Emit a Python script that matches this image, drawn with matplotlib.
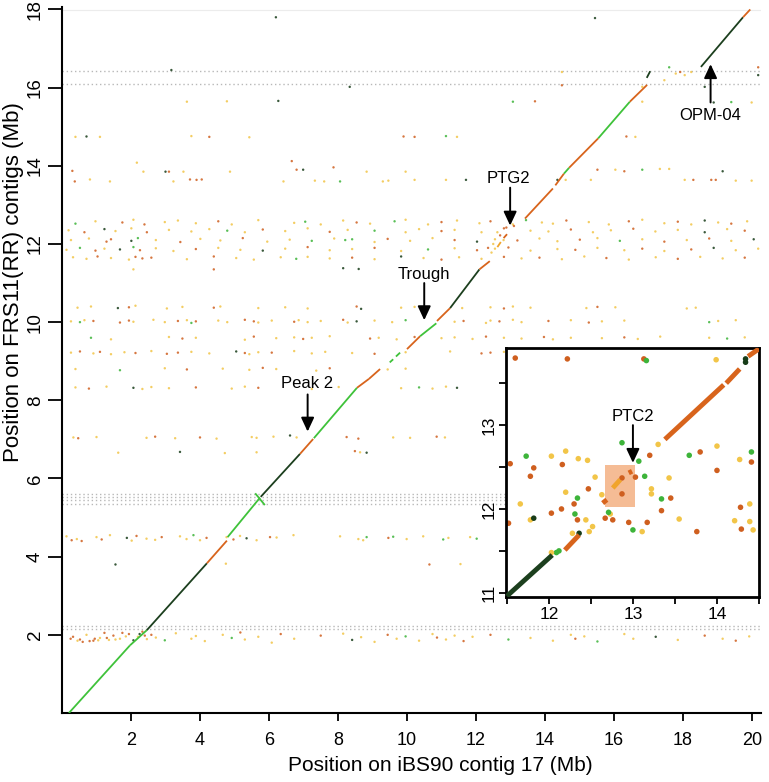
import matplotlib
matplotlib.use("Agg")
import matplotlib.pyplot as plt
from matplotlib.patches import Rectangle
from matplotlib.ticker import MultipleLocator

plt.rcParams['font.family'] = ['Liberation Sans', 'DejaVu Sans']

# colour codes used in the data strings below
DOT_COLORS = {"y": "#f2c548", "o": "#cf5f1f", "g": "#3db43a", "d": "#173c19", "l": "#f0a42c"}
LINE_COLORS = {"g": "#3fc23a", "d": "#1c3f1e", "o": "#d8641c", "l": "#f0a42c"}

# ---- main plot: scattered hits, band by band ----
b12a_x = [0.39, 0.97, 1.75, 2.07, 2.39, 2.98, 3.36, 3.88, 4.53, 4.92, 5.69, 6.73, 7.05, 7.50, 8.15, 8.54, 8.93, 9.64, 9.96, 10.61,
          11.0, 11.45, 12.1, 12.42, 13.07, 13.45, 13.91, 14.23, 14.62, 15.27, 15.85, 16.43, 16.82, 17.46, 17.85, 18.24, 18.63, 19.02, 19.4, 19.86]
b12a_y = [12.52, 12.58, 12.55, 12.62, 12.5, 12.56, 12.6, 12.53, 12.58, 12.5, 12.61, 12.54, 12.57, 12.5, 12.6, 12.55, 12.52, 12.58, 12.62, 12.5,
          12.56, 12.6, 12.53, 12.58, 12.5, 12.61, 12.55, 12.52, 12.6, 12.56, 12.5, 12.58, 12.62, 12.53, 12.57, 12.5, 12.6, 12.55, 12.52, 12.58]
b12a_c = "gyoyoyyyoy" "yygyyoygyy" "oyyoygyyoy" "yoyyoydyoy"

b12b_x = [0.19, 0.65, 1.23, 1.55, 2.01, 2.46, 3.1, 3.75, 4.27, 4.79, 5.3, 5.82, 6.47, 7.12, 7.76, 8.28, 9.06, 9.96, 10.35, 11.0,
          11.38, 12.16, 12.81, 13.58, 14.1, 14.75, 15.39, 15.91, 16.56, 17.2, 17.85, 18.63, 19.28, 19.79]
b12b_y = [12.35, 12.3, 12.38, 12.33, 12.4, 12.3, 12.36, 12.32, 12.38, 12.34, 12.3, 12.37, 12.33, 12.4, 12.31, 12.36, 12.34, 12.3, 12.38, 12.33,
          12.36, 12.3, 12.4, 12.34, 12.32, 12.37, 12.3, 12.35, 12.39, 12.32, 12.36, 12.3, 12.38, 12.34]
b12b_c = "yodyyoyyyg" "yoyyoygyyo" "yyoyyoyyoy" "ydyo"

b12c_x = [0.26, 0.78, 1.29, 1.42, 2.01, 2.2, 2.72, 3.43, 4.01, 4.59, 5.24, 5.95, 6.6, 7.24, 7.89, 8.21, 8.41, 9.06, 9.44, 10.09,
          10.74, 11.38, 12.03, 12.55, 13.2, 13.84, 14.36, 15.01, 15.52, 16.17, 16.82, 17.46, 18.11, 18.76, 19.4, 20.05]
b12c_y = [12.1, 12.14, 12.06, 12.12, 12.08, 12.15, 12.1, 12.05, 12.13, 12.09, 12.15, 12.06, 12.11, 12.08, 12.14, 12.1, 12.12, 12.05, 12.13, 12.08,
          12.15, 12.1, 12.06, 12.12, 12.09, 12.14, 12.07, 12.11, 12.15, 12.08, 12.12, 12.06, 12.1, 12.14, 12.08, 12.12]
b12c_c = "yyoodgyoyy" "oyygyggyoy" "yodyoyyoyg" "yoyoyd"

b12d_x = [0.13, 0.52, 0.97, 1.23, 1.68, 2.07, 2.26, 2.72, 3.23, 3.88, 4.53, 5.17, 5.82, 6.47, 7.12, 7.76, 8.41, 9.06, 9.83, 10.61,
          11.38, 12.03, 12.55, 12.94, 13.58, 14.36, 14.88, 15.52, 16.3, 16.82, 17.46, 18.24, 18.89, 19.53, 20.18]
b12d_y = [11.85, 11.9, 11.83, 11.88, 11.86, 11.92, 11.84, 11.89, 11.82, 11.87, 11.9, 11.85, 11.83, 11.88, 11.92, 11.84, 11.87, 11.9, 11.82, 11.86,
          11.89, 11.84, 11.88, 11.91, 11.83, 11.87, 11.85, 11.9, 11.84, 11.88, 11.82, 11.86, 11.9, 11.84, 11.88]
b12d_c = "ygoydgoyyo" "yydyoyyoyg" "yoyoyyoyyo" "yodyy"

b12e_x = [0.32, 0.71, 1.03, 1.42, 1.94, 2.13, 2.33, 2.59, 3.62, 4.4, 5.05, 5.56, 6.34, 6.79, 7.12, 7.76, 8.41, 9.06, 9.83, 10.48,
          11.0, 11.51, 12.16, 12.81, 13.32, 13.84, 14.49, 15.14, 15.78, 16.43, 17.21, 17.85, 18.5, 19.15, 19.79]
b12e_y = [11.66, 11.62, 11.68, 11.64, 11.6, 11.67, 11.63, 11.65, 11.61, 11.68, 11.64, 11.6, 11.66, 11.62, 11.67, 11.63, 11.65, 11.61, 11.68, 11.64,
          11.6, 11.66, 11.62, 11.67, 11.63, 11.65, 11.61, 11.68, 11.64, 11.6, 11.66, 11.62, 11.67, 11.63, 11.65]
b12e_c = "yyoyyoooyo" "yyygyyoydy" "oyyoyoyyoy" "yoyyo"

b12f_x = [2.07, 4.4, 8.15, 8.6, 12.35, 12.5, 12.7, 12.62, 12.88, 12.45, 12.8, 13.1]
b12f_y = [11.35, 11.35, 11.38, 11.36, 11.9, 12.0, 12.22, 12.3, 12.42, 11.78, 12.1, 12.46]
b12f_c = "yoddoyoyoyyo"

b10a_x = [0.45, 0.84, 1.62, 1.94, 2.13, 3.04, 3.49, 4.4, 4.59, 5.69, 6.47, 7.12, 8.54, 8.67, 9.83, 10.22, 11.6, 12.42, 12.81, 13.07,
          13.58, 15.2, 15.52, 16.04, 18.11, 18.37]
b10a_y = [10.37, 10.4, 10.36, 10.38, 10.42, 10.35, 10.39, 10.37, 10.4, 10.36, 10.38, 10.35, 10.4, 10.34, 10.37, 10.39, 10.36, 10.38, 10.35, 10.4,
          10.37, 10.36, 10.39, 10.38, 10.35, 10.37]
b10a_c = "yydoyyyoyy" "yyodyyyyoy" "yyoyyy"

b10b_x = [0.26, 0.52, 0.65, 0.91, 1.68, 1.94, 2.07, 2.65, 2.98, 3.36, 3.62, 3.75, 3.88, 4.53, 4.79, 5.3, 5.56, 5.69, 6.08, 6.73,
          6.86, 7.12, 7.5, 8.15, 8.28, 8.54, 9.06, 9.57, 9.96, 11.38, 11.64, 12.29, 12.42, 12.68, 13.07, 13.32, 14.1, 14.75, 15.27, 15.65,
          16.3, 18.76, 19.02, 19.53]
b10b_y = [10.02, 10.0, 10.05, 10.03, 9.99, 10.04, 10.01, 10.06, 10.0, 10.03, 10.05, 9.98, 10.02, 10.04, 10.0, 10.06, 10.02, 9.99, 10.04, 10.01,
          10.05, 10.0, 10.03, 10.06, 9.99, 10.02, 10.04, 10.0, 10.05, 10.01, 10.03, 9.98, 10.04, 10.02, 10.06, 10.0, 10.03, 10.05, 9.99, 10.02,
          10.04, 10.0, 10.03, 10.05]
b10b_c = "ygyoooyyyo" "ygoyyooyyo" "yyyoydyygy" "oyyoyyoyoy" "ygyy"

b96_x = [0.84, 1.42, 3.1, 3.49, 3.88, 5.3, 5.56, 6.21, 6.73, 6.99, 7.24, 7.76, 8.93, 9.18, 9.7, 10.22, 11.0, 11.38, 11.9, 12.29,
         12.81, 13.32, 13.97, 14.23, 14.75, 15.65, 16.3, 16.69, 17.34, 18.76, 19.28, 19.79]
b96_y = [9.6, 9.56, 9.62, 9.58, 9.6, 9.55, 9.63, 9.59, 9.61, 9.57, 9.6, 9.64, 9.58, 9.6, 9.56, 9.62, 9.59, 9.61, 9.57, 9.63,
         9.6, 9.58, 9.62, 9.56, 9.6, 9.59, 9.61, 9.57, 9.63, 9.6, 9.58, 9.61]
b96_c = "gyyoyyoyyo" "yyoyyoyyyo" "yyoyyyoyyy" "gy"

b92_x = [0.26, 0.52, 0.91, 1.1, 1.42, 1.81, 2.13, 2.59, 3.04, 3.36, 3.75, 4.27, 5.05, 5.3, 5.43, 5.69, 6.08, 6.73, 7.24, 7.63,
         8.41, 9.06, 9.96, 11.25, 12.16, 12.42, 12.81, 13.45, 13.84, 14.36, 14.88, 15.52, 16.17, 16.82, 17.72, 18.5, 19.15, 19.66]
b92_y = [9.22, 9.25, 9.2, 9.24, 9.18, 9.23, 9.21, 9.26, 9.19, 9.22, 9.24, 9.2, 9.25, 9.21, 9.18, 9.23, 9.22, 9.26, 9.2, 9.24,
         9.21, 9.19, 9.23, 9.25, 9.2, 9.22, 9.24, 9.21, 9.26, 9.19, 9.23, 9.22, 9.2, 9.24, 9.21, 9.25, 9.2, 9.23]
b92_c = "yoyoyyoyoo" "yydoyyoyyy" "yoyyooyyoy" "yyyyyyoy"

b88_x = [0.39, 1.68, 2.98, 3.62, 4.66, 5.43, 5.82, 6.21, 7.37, 7.76, 9.44, 9.96, 12.94, 13.58, 14.23, 14.62, 15.52, 16.3]
b88_y = [8.8, 8.77, 8.82, 8.79, 8.81, 8.78, 8.83, 8.8, 8.76, 8.82, 8.79, 8.81, 8.8, 8.78, 8.82, 8.8, 8.79, 8.81]
b88_c = "ygyoyyoyyo" "yyyoyyoy"

b83_x = [0.39, 0.78, 1.29, 2.07, 2.33, 2.59, 3.1, 3.88, 4.92, 5.3, 5.69, 7.24, 8.02, 9.83, 10.35, 10.74, 11.13, 11.45]
b83_y = [8.33, 8.3, 8.35, 8.32, 8.29, 8.34, 8.31, 8.33, 8.3, 8.35, 8.32, 8.29, 8.34, 8.31, 8.33, 8.3, 8.35, 8.32]
b83_c = "yoydyyyoyy" "oyyygyyd"

b70_x = [0.33, 0.47, 1.0, 2.45, 2.7, 3.28, 4.0, 4.48, 5.5, 5.64, 6.13, 6.61, 6.8, 8.25, 8.59, 9.6, 10.09, 10.86, 11.1,
         1.63, 3.42, 4.72, 5.64, 8.49, 8.64, 8.83]
b70_y = [7.05, 7.03, 7.06, 7.04, 7.07, 7.03, 7.05, 7.02, 7.06, 7.04, 7.07, 7.1, 7.05, 7.06, 7.02, 7.05, 7.04, 7.07, 7.05,
         6.66, 6.68, 6.65, 6.67, 6.7, 6.67, 6.66]
b70_c = "yoyyoyoyyy" "ydyooyyoy" "ydyyoyd"

b45_x = [0.13, 0.28, 0.43, 0.57, 1.0, 1.15, 1.39, 1.88, 2.02, 2.16, 2.45, 2.7, 2.89, 3.42, 3.61, 3.81, 4.0, 4.19, 4.77, 4.97,
         5.16, 5.35, 5.64, 6.03, 6.22, 6.71, 8.06, 8.59, 8.73, 8.83, 9.46, 9.6, 9.99, 10.47, 11.05, 11.2, 11.83, 12.02,
         1.55, 4.75, 10.65, 11.55]
b45_y = [4.52, 4.42, 4.45, 4.4, 4.5, 4.44, 4.55, 4.48, 4.41, 4.53, 4.46, 4.43, 4.5, 4.52, 4.45, 4.55, 4.42, 4.48, 4.5, 4.44,
         4.53, 4.47, 4.42, 4.5, 4.49, 4.55, 4.52, 4.45, 4.42, 4.5, 4.48, 4.51, 4.45, 4.52, 4.44, 4.48, 4.5, 4.46,
         3.8, 3.82, 3.8, 3.81]
b45_c = "yoyoyoydyo" "yyoyygyoyo" "ydyoyyyyyg" "ogyygyyg" "dyoy"

b2_x = [0.32, 0.52, 0.71, 0.91, 1.1, 1.23, 1.36, 1.49, 1.68, 1.94, 2.07, 2.2, 2.33, 2.46, 2.59, 2.72, 2.98, 3.3, 3.75, 3.88,
        4.14, 4.66, 4.92, 5.17, 5.3, 5.69, 6.08, 6.34, 6.73, 7.5, 8.15, 8.41, 8.67, 9.06, 9.44, 9.7, 9.96, 10.35, 10.74, 10.87,
        11.13, 11.38, 11.64, 11.9, 12.42, 12.94, 13.58, 14.23, 14.75, 14.88, 15.14, 15.52, 16.3, 16.56, 17.21, 17.85, 18.63, 19.15, 19.53, 19.92,
        0.25, 0.45, 0.6, 0.8, 0.95, 1.05, 1.3, 1.55, 1.75, 1.85, 2.25, 2.4]
b2_y = [1.95, 1.88, 2.0, 1.85, 1.92, 2.05, 1.87, 1.98, 1.9, 2.02, 1.86, 1.95, 2.08, 1.89, 2.0, 1.93, 1.86, 2.04, 1.9, 1.97,
        1.84, 2.0, 1.92, 2.06, 1.88, 1.95, 1.8, 2.02, 1.9, 1.98, 2.03, 1.87, 1.94, 1.82, 2.0, 1.9, 1.96, 1.85, 2.02, 1.93,
        1.88, 1.98, 1.84, 1.95, 2.0, 1.88, 1.92, 1.85, 2.0, 1.9, 1.96, 1.83, 2.02, 1.9, 1.95, 1.87, 1.98, 1.9, 1.85, 1.96,
        1.9, 1.85, 1.82, 1.84, 1.9, 1.86, 1.92, 1.88, 2.05, 1.96, 2.02, 1.98]
b2_c = "ooyoyoyoyo" "dyoyoygyyy" "yygoyyyoyo" "ydyyoygyyo" "yyoyogyyyo" "ygyydyoyoy" "oyoooyoyoydo"

b137_x = [0.3, 0.37, 0.81, 1.39, 2.17, 2.36, 3.0, 3.1, 3.52, 3.23, 3.71, 3.9, 4.05, 4.87, 6.42, 6.66, 6.8, 6.99, 7.33, 7.6,
          7.87, 8.06, 8.83, 9.3, 9.46, 9.96, 10.22, 11.13, 11.71, 14.36, 14.6, 15.33, 15.52, 16.04, 16.3, 16.82, 17.33, 17.6, 18.05, 18.3,
          18.82, 18.95, 19.15, 19.53, 19.99]
b137_y = [13.87, 13.6, 13.65, 13.6, 14.08, 13.85, 13.85, 13.85, 13.85, 13.6, 13.65, 13.64, 13.65, 13.85, 13.6, 14.12, 13.9, 13.9, 13.62, 13.6,
          13.96, 13.6, 13.85, 13.6, 13.62, 13.85, 13.64, 13.64, 13.64, 13.64, 13.64, 13.64, 13.9, 13.9, 13.86, 13.9, 13.92, 13.92, 13.64, 13.64,
          13.64, 13.64, 13.86, 13.62, 13.62]
b137_c = "ooyyyydoyy" "oooyyoodyy" "ogyyyyyydd" "yyoyogyyyo" "oodyy"

btop_x = [0.39, 0.71, 1.1, 3.75, 4.27, 5.43, 9.9, 10.22, 11.13, 11.45, 16.36, 16.62,
          3.62, 4.78, 6.27, 13.07, 13.71, 16.82, 18.89, 19.4, 19.99,
          3.17, 8.34, 14.49, 14.49, 16.82, 17.46, 17.6, 17.79, 17.92, 18.05, 18.24, 18.63, 20.18, 20.18, 6.2, 15.45]
btop_y = [14.74, 14.75, 14.74, 14.76, 14.74, 14.73, 14.75, 14.74, 14.76, 14.74, 14.75, 14.74,
          15.64, 15.65, 15.66, 15.64, 15.65, 15.64, 15.62, 15.63, 15.62,
          16.45, 16.02, 16.4, 16.06, 16.02, 16.19, 16.52, 16.36, 16.4, 16.32, 16.4, 16.02, 16.52, 16.32, 17.8, 17.78]
btop_c = "ydyyoyoogyoy" "yydgoydgy" "ddyoyygyoyydoddd"

# diagonal (collinear) alignment blocks
seg_x0 = [0.2, 1.97, 2.46, 4.2, 4.8, 5.6, 5.76, 6.9, 7.3, 8.55, 8.9, 9.5, 9.68, 10.0, 10.38, 10.87, 11.25, 12.1,
          12.62, 12.8, 13.42, 14.3, 14.55, 14.7, 15.54, 16.46, 16.95, 18.52, 19.74]
seg_y0 = [0.0, 1.73, 2.12, 3.83, 4.5, 5.62, 5.53, 6.63, 7.03, 8.32, 8.55, 8.97, 9.12, 9.31, 9.64, 10.03, 10.36, 11.35,
          11.92, 12.15, 12.65, 13.5, 13.8, 13.95, 14.7, 15.64, 16.25, 16.53, 17.8]
seg_x1 = [1.97, 2.46, 4.2, 4.78, 5.74, 5.88, 6.9, 7.28, 8.55, 8.9, 9.22, 9.6, 9.8, 10.38, 10.85, 11.25, 12.1, 12.4,
          12.72, 12.9, 14.23, 14.55, 14.7, 15.54, 16.46, 16.96, 17.05, 19.74, 19.95]
seg_y1 = [1.73, 2.12, 3.83, 4.41, 5.51, 5.32, 6.63, 7.01, 8.32, 8.55, 8.8, 9.05, 9.22, 9.64, 9.97, 10.36, 11.35, 11.56,
          12.05, 12.25, 13.42, 13.8, 13.95, 14.7, 15.64, 16.07, 16.42, 17.8, 18.0]
seg_c = "ggdoggdog" "oogg" "ogodo" "looo" "gogo" "ddo"

contig_breaks = [16.08, 16.43, 5.6, 5.52, 5.44, 5.35, 2.23, 2.16]

# ---- inset: zoom on PTC2 ----
inset_x = [11.60, 12.22, 13.13, 13.16, 13.99, 14.34, 14.34, 11.54, 11.73, 11.82, 11.78, 12.03, 12.20, 12.16, 12.35, 12.46, 12.47,
           12.55, 12.20, 12.34, 12.30, 12.15, 12.03, 12.31, 12.34, 12.44, 12.52, 12.48, 12.28, 12.36, 11.66, 11.78, 11.82, 11.52,
           12.09, 12.12, 12.03, 12.63, 12.87, 12.87, 13.03, 12.67, 12.73, 12.71, 12.76, 12.95, 13.0, 13.11, 13.17, 12.87, 13.07,
           13.20, 13.30, 13.14, 13.22, 13.22, 13.34, 13.34, 13.45, 13.43, 13.55, 13.67, 13.80, 13.76, 14.0, 14.0, 14.27, 14.41,
           14.41, 14.39, 14.28, 14.21, 14.39, 14.29, 14.43]
inset_y = [13.80, 13.79, 13.79, 13.77, 13.78, 13.79, 13.75, 12.54, 12.63, 12.49, 12.39, 12.63, 12.69, 12.53, 12.60, 12.58, 12.24,
           12.38, 12.20, 12.13, 12.06, 12.0, 11.95, 11.94, 11.87, 11.87, 11.79, 11.73, 11.71, 11.71, 12.06, 11.87, 11.89, 11.83,
           11.48, 11.50, 11.48, 12.17, 12.37, 12.18, 12.38, 11.89, 11.94, 11.96, 11.87, 11.84, 11.75, 11.73, 11.84, 12.79, 12.57,
           12.64, 12.77, 12.39, 12.24, 12.18, 11.98, 12.12, 12.13, 12.37, 11.88, 12.64, 12.68, 11.73, 12.46, 12.75, 12.59, 12.68,
           12.56, 12.06, 12.02, 11.86, 11.85, 11.76, 11.75]
inset_c = "ooogyddogo" "oyyoyyoyyg" "ooogoyyyyd" "yydoggyyoo" "ooygoogyog" "goygyyogoy" "ygoooyygoy" "oyyoy"

iseg_x0 = [11.50, 12.19, 13.38, 14.11, 14.37, 12.76, 12.64, 12.95]
iseg_y0 = [10.96, 11.51, 12.83, 13.50, 13.82, 12.25, 12.07, 12.43]
iseg_x1 = [12.04, 12.36, 14.08, 14.27, 14.50, 12.85, 12.69, 12.99]
iseg_y1 = [11.45, 11.69, 13.48, 13.67, 13.91, 12.35, 12.11, 12.45]
iseg_c = "dooooloo"

bands = [
    (b12a_x, b12a_y, b12a_c), (b12b_x, b12b_y, b12b_c), (b12c_x, b12c_y, b12c_c),
    (b12d_x, b12d_y, b12d_c), (b12e_x, b12e_y, b12e_c), (b12f_x, b12f_y, b12f_c),
    (b10a_x, b10a_y, b10a_c), (b10b_x, b10b_y, b10b_c), (b96_x, b96_y, b96_c),
    (b92_x, b92_y, b92_c), (b88_x, b88_y, b88_c), (b83_x, b83_y, b83_c),
    (b70_x, b70_y, b70_c), (b45_x, b45_y, b45_c), (b2_x, b2_y, b2_c),
    (b137_x, b137_y, b137_c), (btop_x, btop_y, btop_c),
]


def dots(ax, xs, ys, codes, size, alpha):
    ax.scatter(xs, ys, s=size, c=[DOT_COLORS[k] for k in codes], linewidths=0, alpha=alpha, zorder=2)


def segments(ax, x0, y0, x1, y1, codes, lw):
    for a, b, c, d, k in zip(x0, y0, x1, y1, codes):
        ax.plot([a, c], [b, d], color=LINE_COLORS[k], lw=lw, solid_capstyle="butt", zorder=3)


fig = plt.figure(figsize=(7.69, 7.82), dpi=100)
# 18 Mb sits at ~9.5 px from the top, 0 at 713 px
ax = fig.add_axes([62 / 769, 69 / 782, 698.6 / 769, 705.5 / 782])

for y in contig_breaks:
    ax.axhline(y, color="#b8b8b8", lw=1.0, ls=(0, (1, 2)), zorder=1)
ax.axhline(17.98, color="#ececec", lw=0.8, zorder=1)

for xs, ys, cs in bands:
    dots(ax, xs, ys, cs, 3, 0.85)
segments(ax, seg_x0, seg_y0, seg_x1, seg_y1, seg_c, 1.3)

ax.set_xlim(0, 20.25)
ax.set_ylim(0, 18.05)
ax.set_xticks(range(2, 21, 2))
ax.set_yticks(range(2, 19, 2))
ax.set_yticklabels([str(v) for v in range(2, 19, 2)], rotation=90, va="center")
for side in ["top", "right"]:
    ax.spines[side].set_visible(False)
for side in ["left", "bottom"]:
    ax.spines[side].set_linewidth(1.5)
ax.tick_params(axis="x", length=6, width=1.3, labelsize=13, pad=8)
ax.tick_params(axis="y", length=10, width=1.3, labelsize=13.5, pad=3)
ax.set_xlabel("Position on iBS90 contig 17 (Mb)", fontsize=15)
ax.set_ylabel("Position on FRS11(RR) contigs (Mb)", fontsize=16)
ax.xaxis.set_label_coords(0.541, -0.061)
ax.yaxis.set_label_coords(-0.055, 0.611)

arrow = dict(arrowstyle="-|>,head_length=0.6,head_width=0.28", color="black", lw=1.4,
             shrinkA=0, shrinkB=0, mutation_scale=14)
ax.annotate("", xy=(7.12, 7.2), xytext=(7.12, 8.15), arrowprops=arrow, zorder=5)
ax.text(7.1, 8.42, "Peak 2", fontsize=12, ha="center", va="center")
ax.annotate("", xy=(10.5, 10.05), xytext=(10.5, 11.0), arrowprops=arrow, zorder=5)
ax.text(10.5, 11.23, "Trough", fontsize=12, ha="center", va="center")
ax.annotate("", xy=(12.99, 12.47), xytext=(12.99, 13.44), arrowprops=arrow, zorder=5)
ax.text(12.93, 13.67, "PTG2", fontsize=12, ha="center", va="center")
ax.annotate("", xy=(18.8, 16.6), xytext=(18.8, 15.62), arrowprops=arrow, zorder=5)
ax.text(18.78, 15.28, "OPM-04", fontsize=12, ha="center", va="center")

# inset
ins = fig.add_axes([506 / 769, 185 / 782, 253 / 769, 249 / 782])
ins.add_patch(Rectangle((12.67, 12.02), 0.35, 0.51, facecolor="#f4b183", edgecolor="none", alpha=0.85, zorder=1))
dots(ins, inset_x, inset_y, inset_c, 16, 1.0)
segments(ins, iseg_x0, iseg_y0, iseg_x1, iseg_y1, iseg_c, 3.5)
ins.set_xlim(11.49, 14.5)
ins.set_ylim(10.95, 13.92)
ins.set_xticks([12, 13, 14])
ins.set_yticks([11, 12, 13])
ins.set_yticklabels(["11", "12", "13"], rotation=90, va="center")
ins.xaxis.set_minor_locator(MultipleLocator(0.5))
ins.yaxis.set_minor_locator(MultipleLocator(0.5))
for s in ins.spines.values():
    s.set_linewidth(2)
ins.tick_params(which="both", length=5, width=1.3, labelsize=12.5, pad=2)
ins.annotate("", xy=(13.0, 12.55), xytext=(13.0, 13.0), arrowprops=arrow, zorder=5)
ins.text(13.0, 13.1, "PTC2", fontsize=12, ha="center", va="center")

fig.savefig("out.png", dpi=100)
